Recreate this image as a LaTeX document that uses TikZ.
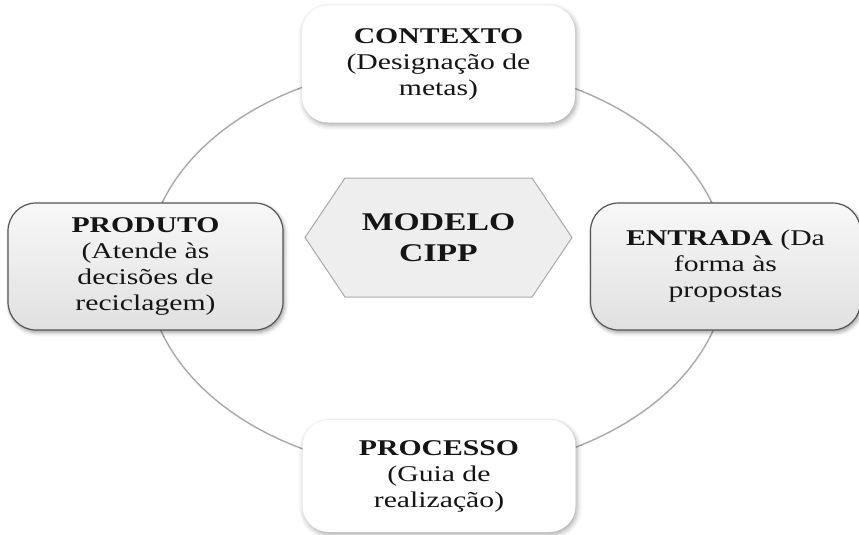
\documentclass[tikz,border=0pt]{standalone}
\usepackage{fontspec}
\setmainfont{Liberation Serif}[FakeStretch=1.32]
\usetikzlibrary{shadows.blur}
\definecolor{ringgray}{HTML}{A8A8A8}
\definecolor{hexfill}{HTML}{EEEEEE}
\definecolor{hexline}{HTML}{A9A9A9}
\definecolor{boxline}{HTML}{555555}
\definecolor{inktext}{HTML}{151515}
\tikzset{
  stagetext/.style={align=center, text=inktext,
    font=\fontsize{22.5}{26}\selectfont},
  whitebox/.style={stagetext, rounded corners=26pt, fill=white,
    minimum width=273pt, minimum height=117pt,
    blur shadow={shadow xshift=1.5pt, shadow yshift=-2.5pt,
      shadow blur radius=5pt, shadow opacity=35}},
  graybox/.style={stagetext, rounded corners=28pt, draw=boxline,
    line width=1.2pt, top color=white!97!black, bottom color=white!88!black,
    minimum width=270pt, minimum height=127pt,
    blur shadow={shadow xshift=1.5pt, shadow yshift=-2.5pt,
      shadow blur radius=4pt, shadow opacity=40}},
  ring/.style={draw=ringgray, line width=1.4pt},
  hexagon/.style={draw=hexline, fill=hexfill, line width=1pt, line join=miter},
}
\begin{document}
\begin{tikzpicture}[x=1pt, y=-1pt]
\useasboundingbox (0,0) rectangle (859,535);

% cycle ring behind the four stages
\coordinate (ringc) at (437,268);
\draw[ring] (ringc) ellipse [x radius=290pt, y radius=204pt];

% central hexagon
\coordinate (hub) at (438.5,237.5);
\draw[hexagon] ([xshift=-133.5pt]hub) -- ([xshift=-93.5pt,yshift=-59.5pt]hub)
  -- ([xshift=93.5pt,yshift=-59.5pt]hub) -- ([xshift=133.5pt]hub)
  -- ([xshift=93.5pt,yshift=59.5pt]hub) -- ([xshift=-93.5pt,yshift=59.5pt]hub)
  -- cycle;
\node[align=center, text=inktext, font=\fontsize{25.5}{31}\selectfont\bfseries]
  (hubtext) at (hub) {MODELO\\CIPP};

% four stages
\node[whitebox] (contexto) at (438.5,64)
  {\textbf{CONTEXTO}\\(Designação de\\metas)};
\node[graybox] (entrada) at (725.5,266.5)
  {\textbf{ENTRADA} (Da\\forma às\\propostas};
\node[whitebox, minimum height=112pt] (processo) at (439,476)
  {\textbf{PROCESSO}\\(Guia de\\realização)};
\node[graybox, minimum width=275pt] (produto) at (145.5,266.5)
  {\textbf{PRODUTO}\\(Atende às\\decisões de\\reciclagem)};
\end{tikzpicture}
\end{document}
